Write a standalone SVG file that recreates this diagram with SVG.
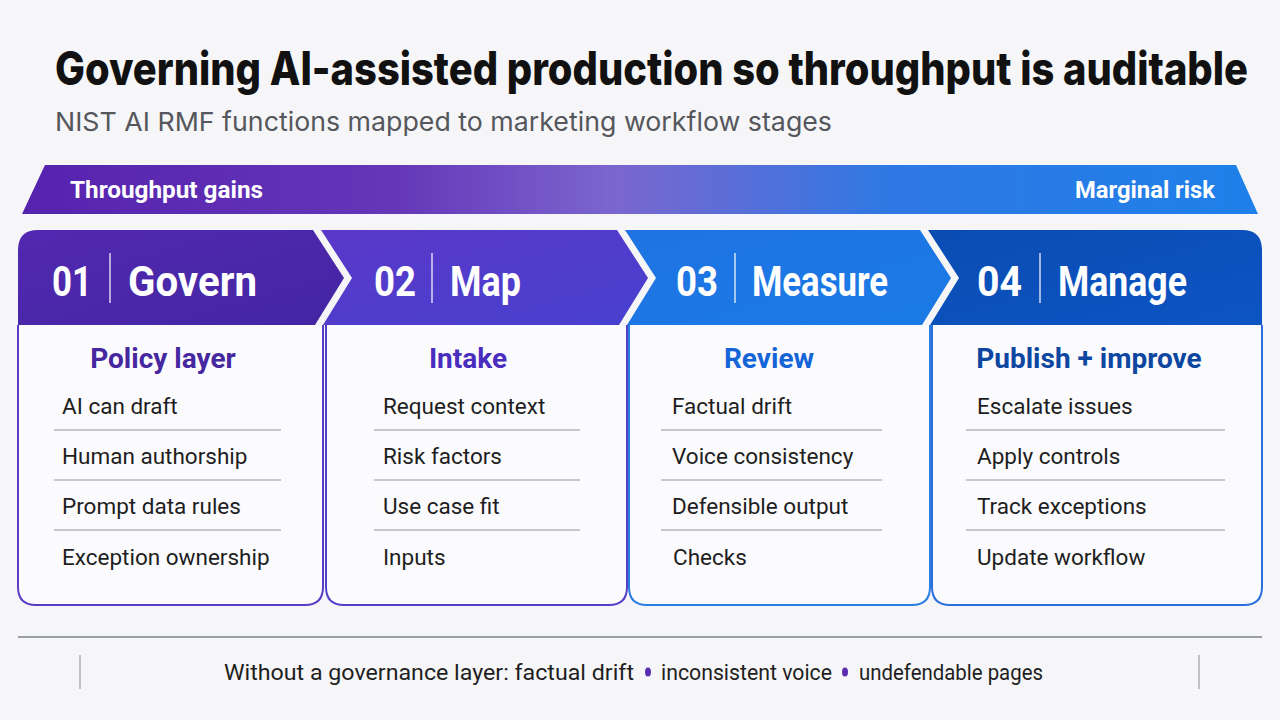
<svg xmlns="http://www.w3.org/2000/svg" width="1280" height="720" viewBox="0 0 1280 720">
<defs>
<linearGradient id="bannerGrad" x1="0" y1="0" x2="1" y2="0">
<stop offset="0" stop-color="#5522AE"/>
<stop offset="0.3" stop-color="#6536B8"/>
<stop offset="0.48" stop-color="#7B66CF"/>
<stop offset="0.7" stop-color="#2F78E3"/>
<stop offset="1" stop-color="#1E80EA"/>
</linearGradient>
<linearGradient id="h1" x1="0" y1="0" x2="1" y2="1">
<stop offset="0" stop-color="#5228B0"/>
<stop offset="1" stop-color="#4326A3"/>
</linearGradient>
<linearGradient id="h2" x1="0" y1="0" x2="1" y2="1">
<stop offset="0" stop-color="#5A38C9"/>
<stop offset="1" stop-color="#4840CF"/>
</linearGradient>
<linearGradient id="h3" x1="0" y1="0" x2="1" y2="1">
<stop offset="0" stop-color="#1F73E2"/>
<stop offset="1" stop-color="#1A7BE6"/>
</linearGradient>
<linearGradient id="h4" x1="0" y1="0" x2="1" y2="1">
<stop offset="0" stop-color="#0A4CB2"/>
<stop offset="1" stop-color="#0D55C4"/>
</linearGradient>
<style>
.hnum{font-family:Roboto,"Liberation Sans",sans-serif;font-weight:700;font-size:42px;fill:#fff}
.hname{font-family:Roboto,"Liberation Sans",sans-serif;font-weight:700;font-size:42px;fill:#fff}
.sep{stroke:#ffffff;stroke-opacity:0.8;stroke-width:1.5}
.body{fill:#fbfbfd;stroke-width:2}
.btitle{font-family:Roboto,"Liberation Sans",sans-serif;font-weight:700;font-size:28px;text-anchor:middle}
.item{font-family:Roboto,"Liberation Sans",sans-serif;font-size:22.5px;fill:#1e1e22}
.div{stroke:#c6c8cd;stroke-width:2}
.btext{font-family:Roboto,"Liberation Sans",sans-serif;font-weight:700;font-size:24px;fill:#fff}
.dot{fill:#5B2DB0}
</style>
</defs>
<rect x="0" y="0" width="1280" height="720" fill="#f6f6f8"/>
<text transform="translate(55,85) scale(1,1.15)" x="0" y="0" font-family="Inter,'Liberation Sans',sans-serif" font-weight="800" font-size="40" fill="#111" textLength="1193" lengthAdjust="spacingAndGlyphs">Governing AI-assisted production so throughput is auditable</text>
<text x="55" y="131" font-family="Inter,'Liberation Sans',sans-serif" font-size="26" fill="#55575c" textLength="777" lengthAdjust="spacingAndGlyphs">NIST AI RMF functions mapped to marketing workflow stages</text>

<g id="banner">
<polygon points="22,214 45,165 1236,165 1258,214" fill="url(#bannerGrad)"/>
<text class="btext" x="70" y="198" textLength="193" lengthAdjust="spacingAndGlyphs">Throughput gains</text>
<text class="btext" x="1075" y="198" textLength="140" lengthAdjust="spacingAndGlyphs">Marginal risk</text>
</g>

<g id="card1">
<path class="body" stroke="#5B3CC4" d="M18,325 L18,587 Q18,605 36,605 L305,605 Q323,605 323,587 L323,325"/>
<path fill="url(#h1)" d="M18,250 Q18,230 38,230 L313,230 L344,278 L315,325 L18,325 Z"/>
<text class="hnum" x="52" y="296" textLength="40" lengthAdjust="spacingAndGlyphs">01</text>
<line class="sep" x1="110" y1="253" x2="110" y2="303"/>
<text class="hname" x="128" y="296" textLength="129" lengthAdjust="spacingAndGlyphs">Govern</text>
<text class="btitle" x="163" y="368" fill="#4527A0">Policy layer</text>
<text class="item" x="62" y="414">AI can draft</text>
<line class="div" x1="54" y1="430" x2="281" y2="430"/>
<text class="item" x="62" y="464">Human authorship</text>
<line class="div" x1="54" y1="480" x2="281" y2="480"/>
<text class="item" x="62" y="514">Prompt data rules</text>
<line class="div" x1="54" y1="530" x2="281" y2="530"/>
<text class="item" x="62" y="565">Exception ownership</text>
</g>

<g id="card2">
<path class="body" stroke="#5340C8" d="M326,325 L326,587 Q326,605 344,605 L609,605 Q627,605 627,587 L627,325"/>
<path fill="url(#h2)" d="M321,230 L617,230 L648,278 L619,325 L323,325 L352,278 Z"/>
<text class="hnum" x="374" y="296" textLength="42" lengthAdjust="spacingAndGlyphs">02</text>
<line class="sep" x1="432" y1="253" x2="432" y2="303"/>
<text class="hname" x="450" y="296" textLength="71" lengthAdjust="spacingAndGlyphs">Map</text>
<text class="btitle" x="468" y="368" fill="#4A2DBF">Intake</text>
<text class="item" x="383" y="414">Request context</text>
<line class="div" x1="374" y1="430" x2="580" y2="430"/>
<text class="item" x="383" y="464">Risk factors</text>
<line class="div" x1="374" y1="480" x2="580" y2="480"/>
<text class="item" x="383" y="514">Use case fit</text>
<line class="div" x1="374" y1="530" x2="580" y2="530"/>
<text class="item" x="383" y="565">Inputs</text>
</g>

<g id="card3">
<path class="body" stroke="#2A7DE1" d="M629,325 L629,587 Q629,605 647,605 L912,605 Q930,605 930,587 L930,325"/>
<path fill="url(#h3)" d="M625,230 L920,230 L951,278 L922,325 L627,325 L656,278 Z"/>
<text class="hnum" x="676" y="296" textLength="42" lengthAdjust="spacingAndGlyphs">03</text>
<line class="sep" x1="735" y1="253" x2="735" y2="303"/>
<text class="hname" x="752" y="296" textLength="136" lengthAdjust="spacingAndGlyphs">Measure</text>
<text class="btitle" x="769" y="368" fill="#1565D8">Review</text>
<text class="item" x="672" y="414">Factual drift</text>
<line class="div" x1="661" y1="430" x2="882" y2="430"/>
<text class="item" x="672" y="464">Voice consistency</text>
<line class="div" x1="661" y1="480" x2="882" y2="480"/>
<text class="item" x="672" y="514">Defensible output</text>
<line class="div" x1="661" y1="530" x2="882" y2="530"/>
<text class="item" x="673" y="565">Checks</text>
</g>

<g id="card4">
<path class="body" stroke="#2A6FDB" d="M932,325 L932,587 Q932,605 950,605 L1244,605 Q1262,605 1262,587 L1262,325"/>
<path fill="url(#h4)" d="M928,230 L1242,230 Q1262,230 1262,250 L1262,325 L930,325 L959,278 Z"/>
<text class="hnum" x="977" y="296" textLength="45" lengthAdjust="spacingAndGlyphs">04</text>
<line class="sep" x1="1040" y1="253" x2="1040" y2="303"/>
<text class="hname" x="1058" y="296" textLength="129" lengthAdjust="spacingAndGlyphs">Manage</text>
<text class="btitle" x="1089" y="368" fill="#0D47A1">Publish + improve</text>
<text class="item" x="977" y="414">Escalate issues</text>
<line class="div" x1="966" y1="430" x2="1225" y2="430"/>
<text class="item" x="977" y="464">Apply controls</text>
<line class="div" x1="966" y1="480" x2="1225" y2="480"/>
<text class="item" x="977" y="514">Track exceptions</text>
<line class="div" x1="966" y1="530" x2="1225" y2="530"/>
<text class="item" x="977" y="565">Update workflow</text>
</g>

<g id="footer">
<line x1="18" y1="637" x2="1262" y2="637" stroke="#9aa0aa" stroke-width="2"/>
<line x1="80" y1="655" x2="80" y2="689" stroke="#8a8e96" stroke-width="1"/>
<line x1="1199" y1="655" x2="1199" y2="689" stroke="#8a8e96" stroke-width="1"/>
<text x="224" y="680" font-family="Roboto,'Liberation Sans',sans-serif" font-size="22" fill="#1e1e22" textLength="410" lengthAdjust="spacingAndGlyphs">Without a governance layer: factual drift</text>
<ellipse class="dot" cx="648" cy="672" rx="3" ry="4.5"/>
<text x="661" y="680" font-family="Roboto,'Liberation Sans',sans-serif" font-size="22" fill="#1e1e22" textLength="171" lengthAdjust="spacingAndGlyphs">inconsistent voice</text>
<ellipse class="dot" cx="845" cy="672" rx="3" ry="4.5"/>
<text x="859" y="680" font-family="Roboto,'Liberation Sans',sans-serif" font-size="22" fill="#1e1e22" textLength="184" lengthAdjust="spacingAndGlyphs">undefendable pages</text>
</g>
</svg>
